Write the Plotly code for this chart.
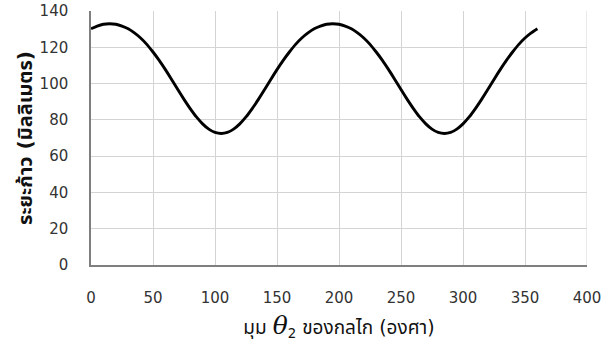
import plotly.graph_objects as go

theta_deg = list(range(0, 365, 5))
stroke_mm = [130.2, 131.7, 132.7, 133.0, 132.7, 131.7, 130.2, 127.9, 125.1, 121.6, 117.4, 112.8, 107.7, 102.3, 96.7, 91.3, 86.2, 81.6, 77.8, 74.9,
             73.1, 72.5, 73.1, 74.9, 77.8, 81.6, 86.2, 91.3, 96.7, 102.3, 107.7, 112.8, 117.4, 121.6, 125.1, 127.9, 130.2,
             131.7, 132.7, 133.0, 132.7, 131.7, 130.2, 127.9, 125.1, 121.6, 117.4, 112.8, 107.7, 102.3, 96.7, 91.3, 86.2, 81.6,
             77.8, 74.9, 73.1, 72.5, 73.1, 74.9, 77.8, 81.6, 86.2, 91.3, 96.7, 102.3, 107.7, 112.8, 117.4, 121.6, 125.1,
             127.9, 130.2]

x_ticks = [0, 50, 100, 150, 200, 250, 300, 350, 400]
y_ticks = [0, 20, 40, 60, 80, 100, 120, 140]

y_title = "ระยะก้าว (มิลลิเมตร)"
x_title = "มุม <i><span style='font-family:DejaVu Serif;font-size:25px'>θ</span></i><sub>2</sub> ของกลไก (องศา)"

fig = go.Figure()
fig.add_trace(go.Scatter(x=theta_deg, y=stroke_mm, mode="lines",
                         line=dict(color="black", width=2.9, shape="spline", smoothing=0.8),
                         showlegend=False, hoverinfo="skip"))

fig.update_layout(
    width=614, height=347,
    margin=dict(l=91, r=27, t=11, b=82),
    paper_bgcolor="white", plot_bgcolor="white",
    font=dict(family="DejaVu Sans, Noto Sans Thai, sans-serif", size=15, color="#222222"),
)
fig.update_xaxes(range=[0, 400], tickvals=x_ticks, showgrid=True, gridcolor="#d4d4d4", gridwidth=1,
                 showline=True, linecolor="#7f7f7f", linewidth=1.5, zeroline=False, automargin=False,
                 ticks="", ticklabelstandoff=18, tickfont=dict(size=15, color="#333333"),
                 title=dict(text=x_title, standoff=15, font=dict(size=19, color="#111111")))
fig.update_yaxes(range=[0, 140], tickvals=y_ticks, showgrid=True, gridcolor="#d4d4d4", gridwidth=1,
                 showline=True, linecolor="#7f7f7f", linewidth=1.5, zeroline=False, automargin=False,
                 ticks="", ticklabelstandoff=18, tickfont=dict(size=15, color="#333333"),
                 title=dict(text="<b>" + y_title + "</b>", standoff=2, font=dict(size=20, color="#111111")))

# right border is a gridline in the reference
fig.add_shape(type="line", xref="x", yref="paper", x0=400, x1=400, y0=0, y1=1,
              line=dict(color="#d4d4d4", width=1))

fig.write_html("out.html", config={"displayModeBar": False},
               post_script="document.body.style.margin='0';")
